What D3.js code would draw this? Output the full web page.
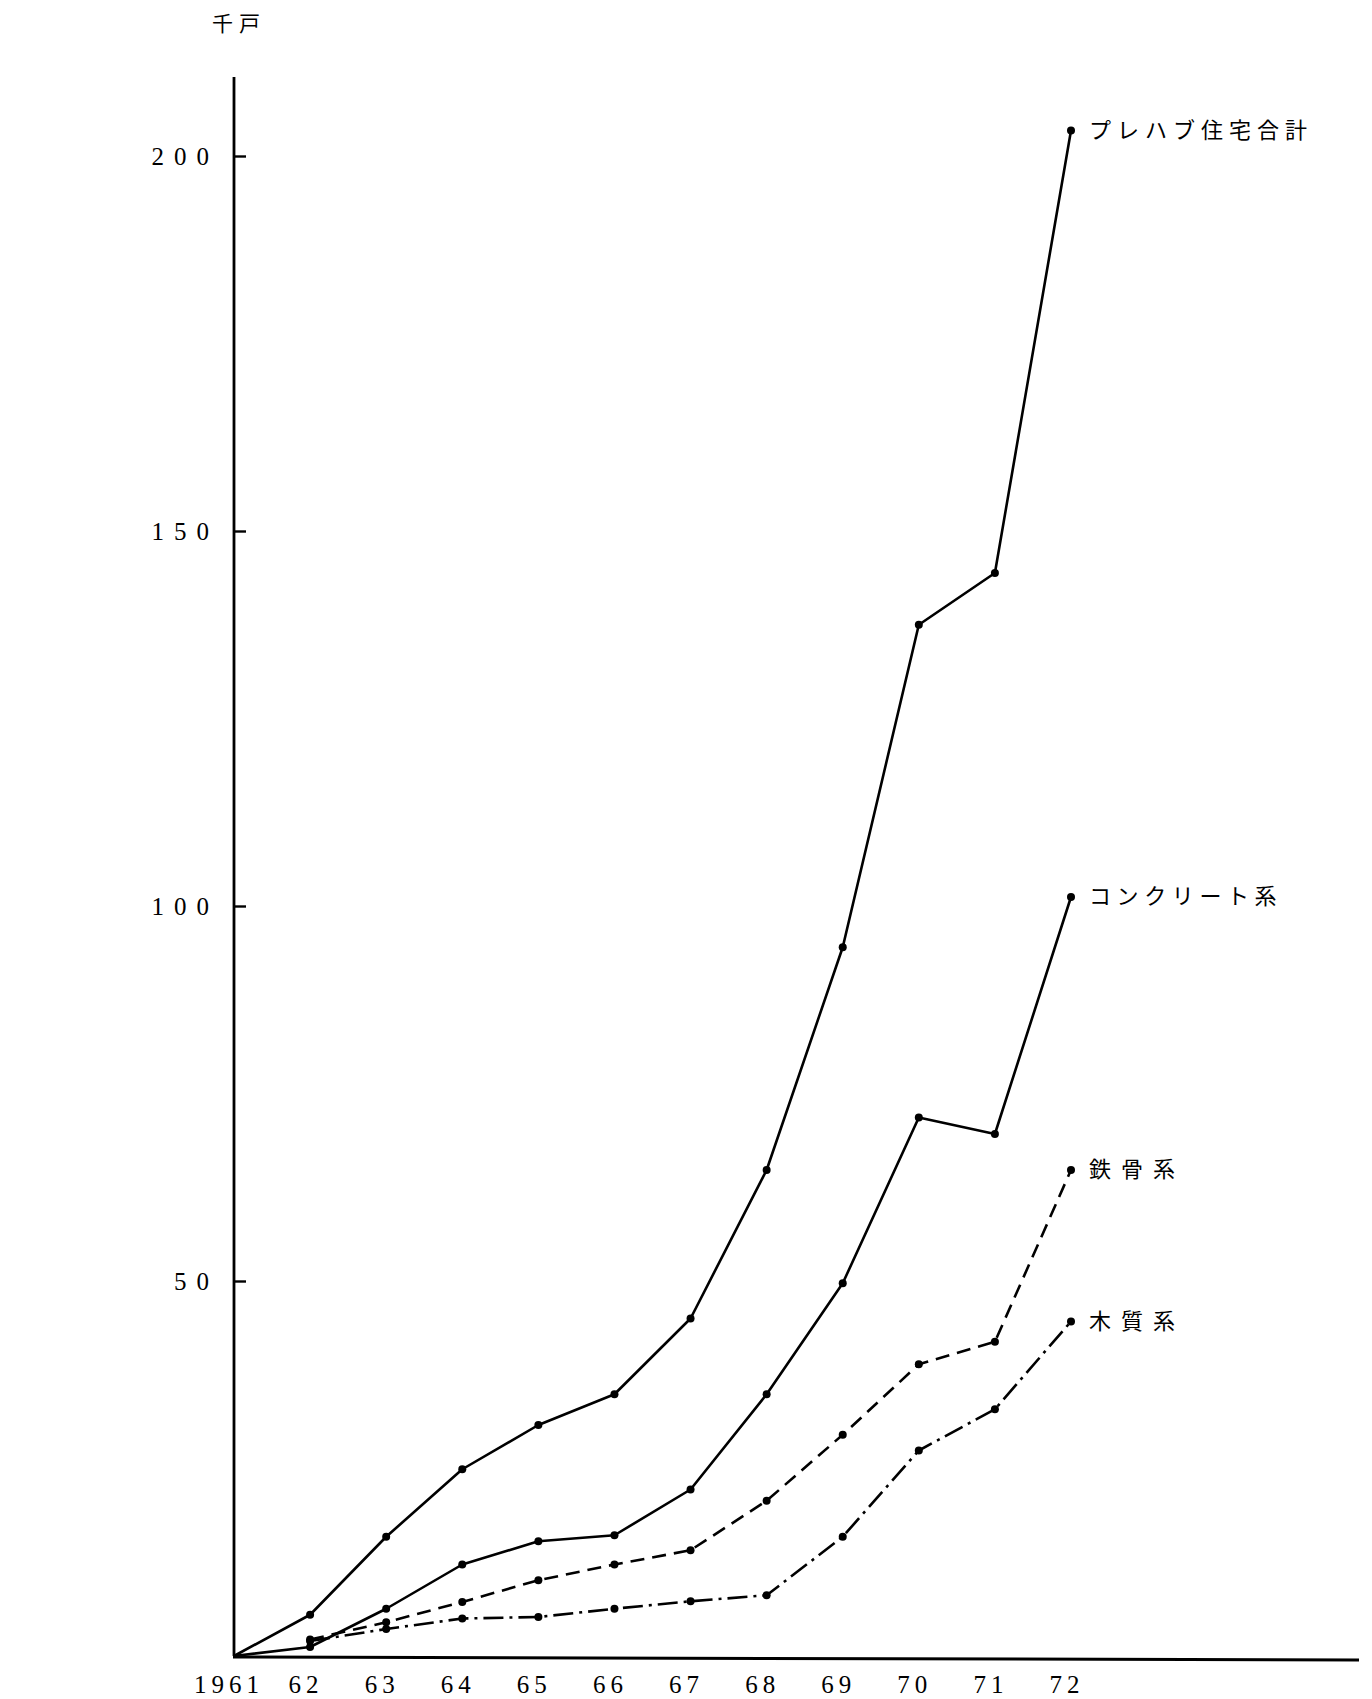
<!DOCTYPE html>
<html><head><meta charset="utf-8">
<script src="https://cdn.jsdelivr.net/npm/d3@7"></script>
<style>html,body{margin:0;padding:0;background:#fff;}</style>
</head><body>
<svg id="c" width="1372" height="1699"></svg>
<script>
const years = [1961,1962,1963,1964,1965,1966,1967,1968,1969,1970,1971,1972];
const yearLabels = ["1961","62","63","64","65","66","67","68","69","70","71","72"];
const yTicks = [50,100,150,200];
const unitLabel = "千戸";
const total    = [0, 5.5, 15.9, 24.9, 30.8, 34.9, 45.0, 64.8, 94.5, 137.5, 144.4, 203.4];
const concrete = [0, 1.2, 6.3, 12.2, 15.3, 16.1, 22.2, 34.9, 49.7, 71.8, 69.6, 101.2];
const steel    = [null, 2.2, 4.5, 7.2, 10.1, 12.2, 14.1, 20.7, 29.5, 38.9, 41.9, 64.8];
const wood     = [null, 2.0, 3.6, 5.0, 5.2, 6.3, 7.3, 8.1, 15.9, 27.4, 32.9, 44.6];
const seriesNames = ["プレハブ住宅合計","コンクリート系","鉄骨系","木質系"];

const series = [
  {name: seriesNames[0], values: total, dash: null, ls: 6},
  {name: seriesNames[1], values: concrete, dash: null, ls: 5.6},
  {name: seriesNames[2], values: steel, dash: "14,8", ls: 10},
  {name: seriesNames[3], values: wood, dash: "20,6,3,6", ls: 10}
];

const svg = d3.select("#c");
const x = d3.scaleLinear().domain([1961,1972]).range([234, 1071]);
const y = d3.scaleLinear().domain([0,200]).range([1656, 156]);

// axes
svg.append("line").attr("x1",x(1961)).attr("x2",x(1961)).attr("y1",77).attr("y2",y(0))
  .attr("stroke","#000").attr("stroke-width",2.8);
svg.append("line").attr("x1",x(1961)-1).attr("x2",1359).attr("y1",y(0)+1).attr("y2",y(0)+4)
  .attr("stroke","#000").attr("stroke-width",3);

const yAxis = d3.axisRight(y).tickValues(yTicks).tickSize(12).tickFormat("");
const yg = svg.append("g").attr("transform",`translate(${x(1961)},0)`).call(yAxis);
yg.select(".domain").remove();
yg.selectAll(".tick line").attr("stroke","#000").attr("stroke-width",2.4);

svg.append("g").selectAll("text").data(yTicks).join("text")
  .attr("x",219).attr("y",d=>y(d)).attr("dy","0.36em")
  .attr("text-anchor","end")
  .attr("font-family","'Liberation Serif','DejaVu Serif',serif")
  .attr("font-size",25).attr("letter-spacing",10)
  .text(d=>String(d));

svg.append("text").attr("x",212).attr("y",31)
  .attr("font-family","'Noto Sans CJK JP',sans-serif").attr("font-size",21)
  .attr("letter-spacing",6).text(unitLabel);

// x labels
svg.append("g").selectAll("text").data(years).join("text")
  .attr("x",(d,i)=>x(d)-(i===0?5:4)).attr("y",1693)
  .attr("text-anchor","middle")
  .attr("font-family","'Liberation Serif','DejaVu Serif',serif")
  .attr("font-size",25).attr("letter-spacing",5)
  .text((d,i)=>yearLabels[i]);

// lines
const line = d3.line().defined(d=>d.v!==null).x(d=>x(d.t)).y(d=>y(d.v));
series.forEach(s=>{
  const pts = years.map((t,i)=>({t, v:s.values[i]}));
  svg.append("path").datum(pts).attr("d",line)
    .attr("fill","none").attr("stroke","#000").attr("stroke-width",2.6)
    .attr("stroke-linejoin","round")
    .attr("stroke-dasharray",s.dash);
  svg.append("g").selectAll("circle").data(pts.filter(p=>p.v!==null && p.t>1961)).join("circle")
    .attr("cx",p=>x(p.t)).attr("cy",p=>y(p.v)).attr("r",4).attr("fill","#000");
  const last = pts[pts.length-1];
  svg.append("text").attr("x",x(last.t)+18).attr("y",y(last.v)-3)
    .attr("dominant-baseline","central")
    .attr("font-family","'Noto Sans CJK JP',sans-serif").attr("font-size",22)
    .attr("letter-spacing",s.ls).text(s.name);
});
</script>
</body></html>
